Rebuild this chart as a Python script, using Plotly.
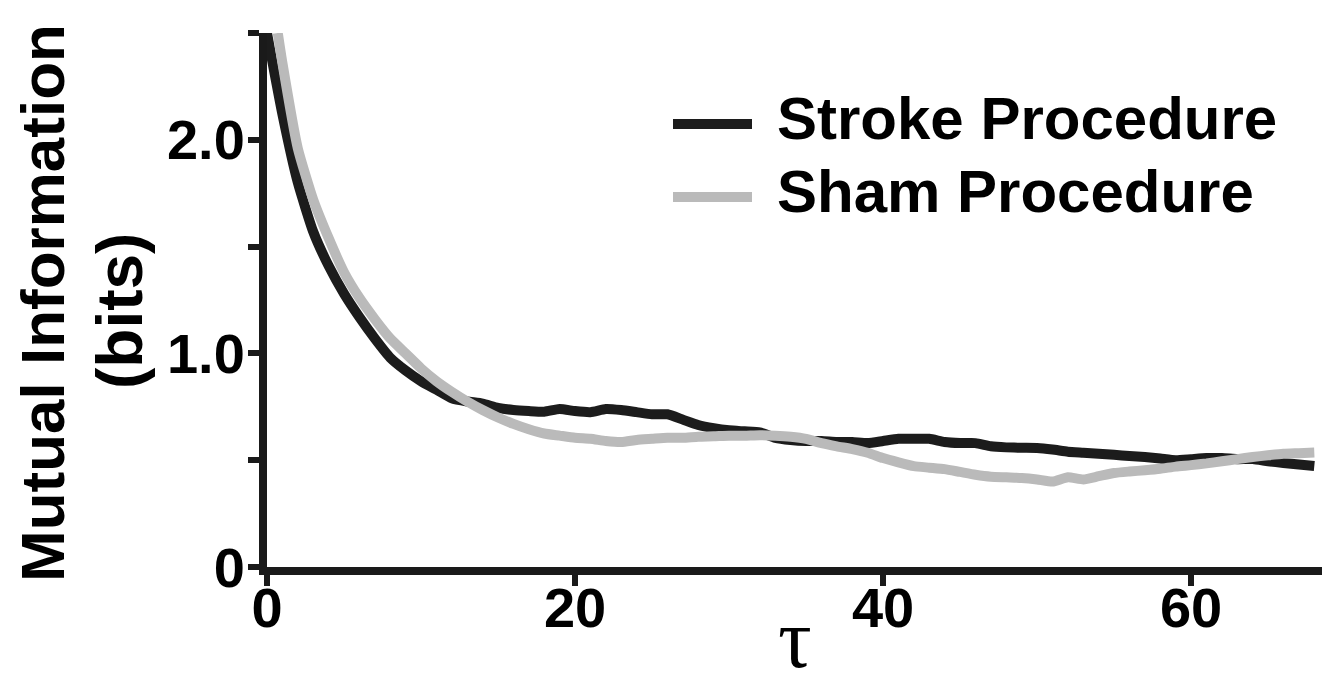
import plotly.graph_objects as go

# ---- data ----
stroke_tau = list(range(0, 69))
stroke_mi = [2.50, 2.12, 1.80, 1.57, 1.41, 1.28, 1.17, 1.07, 0.98, 0.92,
             0.87, 0.83, 0.79, 0.775, 0.765, 0.745, 0.735, 0.73, 0.727, 0.74,
             0.73, 0.725, 0.74, 0.735, 0.725, 0.715, 0.715, 0.69, 0.665, 0.65,
             0.64, 0.635, 0.63, 0.605, 0.595, 0.59, 0.59, 0.585, 0.585, 0.58,
             0.59, 0.60, 0.60, 0.60, 0.585, 0.58, 0.58, 0.565, 0.56, 0.558,
             0.557, 0.55, 0.54, 0.535, 0.53, 0.525, 0.52, 0.515, 0.508, 0.50,
             0.505, 0.51, 0.51, 0.505, 0.505, 0.495, 0.487, 0.48, 0.473]

sham_tau = [0.7] + list(range(1, 69))
sham_mi = [2.50, 2.36, 1.96, 1.72, 1.54, 1.38, 1.26, 1.16, 1.07, 1.00,
           0.93, 0.87, 0.82, 0.775, 0.735, 0.70, 0.67, 0.645, 0.625, 0.615,
           0.605, 0.60, 0.59, 0.585, 0.595, 0.60, 0.605, 0.605, 0.61, 0.612,
           0.615, 0.615, 0.617, 0.615, 0.61, 0.60, 0.58, 0.565, 0.552, 0.535,
           0.51, 0.49, 0.472, 0.465, 0.458, 0.445, 0.432, 0.423, 0.42, 0.417,
           0.41, 0.40, 0.42, 0.41, 0.425, 0.44, 0.447, 0.453, 0.46, 0.47,
           0.477, 0.485, 0.495, 0.505, 0.515, 0.523, 0.53, 0.533, 0.536]

series_names = ["Stroke Procedure", "Sham Procedure"]
series_colors = ["#1c1c1c", "#bababa"]

x_ticks = [0, 20, 40, 60]
x_tick_labels = ["0", "20", "40", "60"]
y_ticks = [0, 0.5, 1.0, 1.5, 2.0, 2.5]
y_tick_labels = ["0", "", "1.0", "", "2.0", ""]

x_title = "τ"
y_title_lines = ["Mutual Information", "(bits)"]

# ---- figure ----
# the page body has an 8px margin, so the figure is drawn 8px right/down
OFF = 8
W, H = 1339 - OFF, 687 - OFF
ML, MR, MT, MB = 267 - OFF, 17, 33 - OFF, 120
PW, PH = W - ML - MR, H - MT - MB

fig = go.Figure()
fig.add_trace(go.Scatter(x=stroke_tau, y=stroke_mi, mode="lines",
                         name=series_names[0], showlegend=False,
                         line=dict(color=series_colors[0], width=10,
                                   shape="spline", smoothing=0.5)))
fig.add_trace(go.Scatter(x=sham_tau, y=sham_mi, mode="lines",
                         name=series_names[1], showlegend=False,
                         line=dict(color=series_colors[1], width=10,
                                   shape="spline", smoothing=0.5)))

axis_color = "#1a1a1a"
tick_font = dict(family="Liberation Sans, Arial, sans-serif", size=56, color="#000000")

fig.update_xaxes(range=[0, 68.5], showgrid=False, zeroline=False,
                 showline=True, linewidth=8, linecolor=axis_color,
                 ticks="outside", ticklen=11, tickwidth=6, tickcolor=axis_color,
                 tickvals=x_ticks, ticktext=["<b>%s</b>" % t for t in x_tick_labels],
                 tickfont=tick_font, ticklabelstandoff=-26)
fig.update_yaxes(range=[0, 2.5], showgrid=False, zeroline=False,
                 showline=True, linewidth=8, linecolor=axis_color,
                 ticks="outside", ticklen=11, tickwidth=6, tickcolor=axis_color,
                 tickvals=y_ticks, ticktext=["<b>%s</b>" % t if t else "" for t in y_tick_labels],
                 tickfont=tick_font, ticklabelstandoff=-8)

# screen-pixel -> paper helpers
def px_x(p):
    return (p - OFF - ML) / PW

def px_y(p):
    return (H - MB - (p - OFF)) / PH

bold_font = "Liberation Sans, Arial, sans-serif"
annotations = [
    dict(text="<b>%s</b>" % y_title_lines[0], xref="paper", yref="paper",
         x=px_x(42), y=px_y(303), textangle=-90, showarrow=False,
         xanchor="center", yanchor="middle",
         font=dict(family=bold_font, size=62, color="#000000")),
    dict(text="<b>%s</b>" % y_title_lines[1], xref="paper", yref="paper",
         x=px_x(120), y=px_y(311), textangle=-90, showarrow=False,
         xanchor="center", yanchor="middle",
         font=dict(family=bold_font, size=64, color="#000000")),
    dict(text=x_title, xref="paper", yref="paper",
         x=px_x(795), y=px_y(638), showarrow=False,
         xanchor="center", yanchor="middle",
         font=dict(family="Liberation Serif, Times New Roman, serif", size=84, color="#000000")),
]

# legend (custom: long line samples as in the reference)
legend_rows_y = [124, 197]
shapes = []
for name, color, ly in zip(series_names, series_colors, legend_rows_y):
    shapes.append(dict(type="line", xref="paper", yref="paper",
                       x0=px_x(673), x1=px_x(752), y0=px_y(ly), y1=px_y(ly),
                       line=dict(color=color, width=10)))
    annotations.append(dict(text="<b>%s</b>" % name, xref="paper", yref="paper",
                            x=px_x(775), y=px_y(ly - 5), showarrow=False,
                            xanchor="left", yanchor="middle",
                            font=dict(family=bold_font, size=60, color="#000000")))

fig.update_layout(width=W, height=H,
                  margin=dict(l=ML, r=MR, t=MT, b=MB, pad=0),
                  plot_bgcolor="white", paper_bgcolor="white",
                  showlegend=False, shapes=shapes, annotations=annotations)

fig.write_html("out.html")
